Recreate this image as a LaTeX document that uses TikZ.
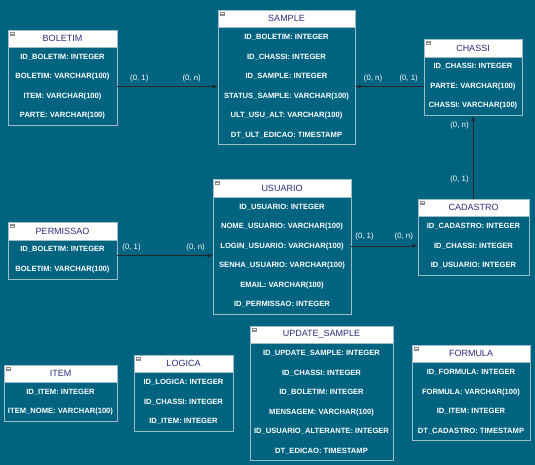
\documentclass[tikz,border=0pt]{standalone}
\usepackage{fontspec}
\setmainfont{Liberation Sans}
\usepackage{tikz}
\usetikzlibrary{arrows}
\usetikzlibrary{positioning}
\definecolor{petroleo}{RGB}{0, 99, 128}
\definecolor{borda}{RGB}{160, 188, 198}
\definecolor{anil}{RGB}{45, 45, 125}
\definecolor{icone}{RGB}{140, 140, 140}

\tikzset{
  cabeca/.style={draw=borda, fill=white, text=anil, font=\fontsize{9}{9}\selectfont,
                 minimum height=17.5pt, inner sep=0pt,
                 path picture={\fill[icone] ([xshift=2pt,yshift=-2pt]path picture bounding box.north west) rectangle +(5pt,-4pt);
                               \draw[white, line width=0.6pt] ([xshift=3pt,yshift=-4pt]path picture bounding box.north west) -- +(3pt,0pt);}},
  corpo/.style={draw=borda, fill=petroleo, text=white, font=\fontsize{7.6}{19.5}\bfseries,
                align=center, inner sep=0pt},
  rotulo/.style={text=white, font=\fontsize{7.8}{9}\selectfont, inner sep=1pt},
  liga/.style={-latex, draw=black!85, line width=0.8pt}
}

\begin{document}
\begin{tikzpicture}[x=1pt, y=-1pt]
            % Fundo
            \useasboundingbox[fill=petroleo]                                (0, 0) rectangle (535, 465);
            % BOLETIM
            \node[cabeca, minimum width=109pt]                               (boletimH) at ( 62.5,  38.5) {BOLETIM};
            \node[corpo,  minimum width=109pt, minimum height=78pt, below=0pt of boletimH] (boletim)
                 {ID\_BOLETIM: INTEGER\\BOLETIM: VARCHAR(100)\\ITEM: VARCHAR(100)\\PARTE: VARCHAR(100)};
            % SAMPLE
            \node[cabeca, minimum width=137pt]                               (sampleH)  at (286.5,  18.5) {SAMPLE};
            \node[corpo,  minimum width=137pt, minimum height=117pt, below=0pt of sampleH] (sample)
                 {ID\_BOLETIM: INTEGER\\ID\_CHASSI: INTEGER\\ID\_SAMPLE: INTEGER\\STATUS\_SAMPLE: VARCHAR(100)\\ULT\_USU\_ALT: VARCHAR(100)\\DT\_ULT\_EDICAO: TIMESTAMP};
            % CHASSI
            \node[cabeca, minimum width=98pt]                                (chassiH)  at (473.0,  48.0) {CHASSI};
            \node[corpo,  minimum width=98pt, minimum height=58.5pt, below=0pt of chassiH] (chassi)
                 {ID\_CHASSI: INTEGER\\PARTE: VARCHAR(100)\\CHASSI: VARCHAR(100)};
            % PERMISSAO
            \node[cabeca, minimum width=109pt]                               (permissaoH) at ( 62.5, 231.0) {PERMISSAO};
            \node[corpo,  minimum width=109pt, minimum height=39pt, below=0pt of permissaoH] (permissao)
                 {ID\_BOLETIM: INTEGER\\BOLETIM: VARCHAR(100)};
            % USUARIO
            \node[cabeca, minimum width=138pt]                               (usuarioH) at (282.0, 188.0) {USUARIO};
            \node[corpo,  minimum width=138pt, minimum height=117pt, below=0pt of usuarioH] (usuario)
                 {ID\_USUARIO: INTEGER\\NOME\_USUARIO: VARCHAR(100)\\LOGIN\_USUARIO: VARCHAR(100)\\SENHA\_USUARIO: VARCHAR(100)\\EMAIL: VARCHAR(100)\\ID\_PERMISSAO: INTEGER};
            % CADASTRO
            \node[cabeca, minimum width=111pt]                               (cadastroH) at (473.5, 207.5) {CADASTRO};
            \node[corpo,  minimum width=111pt, minimum height=58.5pt, below=0pt of cadastroH] (cadastro)
                 {ID\_CADASTRO: INTEGER\\ID\_CHASSI: INTEGER\\ID\_USUARIO: INTEGER};
            % ITEM
            \node[cabeca, minimum width=113pt]                               (itemH)    at ( 60.5, 373.5) {ITEM};
            \node[corpo,  minimum width=113pt, minimum height=39pt, below=0pt of itemH] (item)
                 {ID\_ITEM: INTEGER\\ITEM\_NOME: VARCHAR(100)};
            % LOGICA
            \node[cabeca, minimum width=99pt]                                (logicaH)  at (183.5, 363.5) {LOGICA};
            \node[corpo,  minimum width=99pt, minimum height=58.5pt, below=0pt of logicaH] (logica)
                 {ID\_LOGICA: INTEGER\\ID\_CHASSI: INTEGER\\ID\_ITEM: INTEGER};
            % UPDATE_SAMPLE
            \node[cabeca, minimum width=143pt]                               (updateH)  at (321.5, 334.5) {UPDATE\_SAMPLE};
            \node[corpo,  minimum width=143pt, minimum height=117pt, below=0pt of updateH] (update)
                 {ID\_UPDATE\_SAMPLE: INTEGER\\ID\_CHASSI: INTEGER\\ID\_BOLETIM: INTEGER\\MENSAGEM: VARCHAR(100)\\ID\_USUARIO\_ALTERANTE: INTEGER\\DT\_EDICAO: TIMESTAMP};
            % FORMULA
            \node[cabeca, minimum width=118pt]                               (formulaH) at (471.0, 353.5) {FORMULA};
            \node[corpo,  minimum width=118pt, minimum height=78pt, below=0pt of formulaH] (formula)
                 {ID\_FORMULA: INTEGER\\FORMULA: VARCHAR(100)\\ID\_ITEM: INTEGER\\DT\_CADASTRO: TIMESTAMP};
            % Ligacoes
            \draw[liga] (boletim.east) -- (boletim.east -| sample.west)
                 node[rotulo, pos=0.22, above=3pt] {(0, 1)} node[rotulo, pos=0.74, above=3pt] {(0, n)};
            \draw[liga] (chassi.west) -- (chassi.west -| sample.east)
                 node[rotulo, pos=0.22, above=3pt] {(0, 1)} node[rotulo, pos=0.74, above=3pt] {(0, n)};
            \draw[liga] (usuario.west -| permissao.east) -- (usuario.west)
                 node[rotulo, pos=0.15, above=3pt] {(0, 1)} node[rotulo, pos=0.82, above=3pt] {(0, n)};
            \draw[liga] (cadastro.west -| usuario.east) -- (cadastro.west)
                 node[rotulo, pos=0.20, above=4pt] {(0, 1)} node[rotulo, pos=0.79, above=4pt] {(0, n)};
            \draw[liga] (chassi.south |- cadastroH.north) -- (chassi.south)
                 node[rotulo, pos=0.23, left=3pt] {(0, 1)} node[rotulo, pos=0.88, left=3pt] {(0, n)};
\end{tikzpicture}
\end{document}
